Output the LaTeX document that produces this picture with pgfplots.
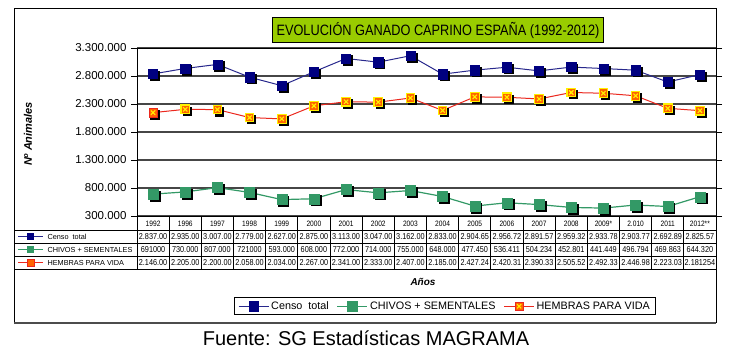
\documentclass[border=0pt]{standalone}
\usepackage{fontspec}
\setmainfont{Liberation Sans}
\newfontfamily\narrowfont[FakeStretch=0.85]{Liberation Sans}
\usepackage{pgfplots}
\usepackage{pgfplotstable}
\pgfplotsset{compat=1.18}
\definecolor{censo}{RGB}{0,0,128}
\definecolor{censoline}{RGB}{40,40,140}
\definecolor{chivos}{RGB}{51,153,102}
\definecolor{hembras}{RGB}{235,40,30}
\definecolor{hfill}{RGB}{255,100,0}
\definecolor{titlebg}{RGB}{153,204,0}
\definecolor{gridc}{RGB}{70,70,70}

\pgfdeclareplotmark{sqx}{%
  \pgfpathrectangle{\pgfqpoint{-\pgfplotmarksize}{-\pgfplotmarksize}}{\pgfqpoint{2\pgfplotmarksize}{2\pgfplotmarksize}}%
  \pgfusepathqfillstroke
  \pgfsetstrokecolor{yellow}\pgfsetlinewidth{1.1pt}%
  \pgfpathmoveto{\pgfqpoint{-0.5\pgfplotmarksize}{-0.5\pgfplotmarksize}}%
  \pgfpathlineto{\pgfqpoint{0.5\pgfplotmarksize}{0.5\pgfplotmarksize}}%
  \pgfpathmoveto{\pgfqpoint{-0.5\pgfplotmarksize}{0.5\pgfplotmarksize}}%
  \pgfpathlineto{\pgfqpoint{0.5\pgfplotmarksize}{-0.5\pgfplotmarksize}}%
  \pgfusepathqstroke}

\pgfplotstableread{
x censo chivos hembras
0  2837000 691000 2146000
1  2935000 730000 2205000
2  3007000 807000 2200000
3  2779000 721000 2058000
4  2627000 593000 2034000
5  2875000 608000 2267000
6  3113000 772000 2341000
7  3047000 714000 2333000
8  3162000 755000 2407000
9  2833000 648000 2185000
10 2904650 477450 2427240
11 2956720 536411 2420310
12 2891570 504234 2390330
13 2959320 452801 2505520
14 2933780 441449 2492330
15 2903770 496794 2446980
16 2692890 469863 2223030
17 2825570 644320 2181254
}\datatable

\begin{document}
\begin{tikzpicture}
\path (0pt,0pt) rectangle (750pt,-354pt);
\begin{axis}[
  at={(137pt,-216pt)}, anchor=south west,
  scale only axis, width=579pt, height=168pt,
  xmin=-0.5, xmax=17.5, ymin=300000, ymax=3300000,
  xtick=\empty,
  ytick={300000,800000,1300000,1800000,2300000,2800000,3300000},
  ymajorgrids, grid style={gridc, line width=1.1pt},
  axis line style={black, line width=0.9pt},
  tick align=outside, major tick length=6pt,
  ytick style={black, line width=0.8pt},
  /pgf/number format/assume math mode=true,
  yticklabel style={/pgf/number format/fixed, /pgf/number format/1000 sep={.}, font=\fontsize{11.5}{13}\selectfont, xshift=-1pt},
  scaled y ticks=false,
  clip=false,
  legend columns=3,
  legend style={at={(0.532,-0.537)}, anchor=center, draw=black, line width=0.8pt,
    font=\fontsize{10.8}{12}\selectfont, inner ysep=2pt, inner xsep=4pt,
    /tikz/every even column/.append style={column sep=6pt}},
  legend image code/.code={\draw[mark repeat=2,mark phase=2,#1] plot coordinates {(0pt,0pt)(15pt,0pt)(30pt,0pt)};},
]
% shadows
\addplot[forget plot, only marks, mark=square*, mark size=4.6pt, black, mark options={xshift=1.8pt,yshift=-1.8pt}] table[x=x,y=censo]{\datatable};
\addplot[forget plot, only marks, mark=square*, mark size=5pt, black, mark options={xshift=1.8pt,yshift=-1.8pt}] table[x=x,y=chivos]{\datatable};
\addplot[forget plot, only marks, mark=square*, mark size=4.3pt, black, mark options={xshift=1.8pt,yshift=-1.8pt}] table[x=x,y=hembras]{\datatable};
% series
\addplot[censoline, line width=1pt, mark=square*, mark size=4.6pt, mark options={fill=censo, draw=censo, line width=0.4pt}] table[x=x,y=censo]{\datatable};
\addlegendentry{Censo\ \ total}
\addplot[chivos, line width=1.2pt, mark=square*, mark size=5pt, mark options={fill=chivos, draw=chivos, line width=0.4pt}] table[x=x,y=chivos]{\datatable};
\addlegendentry{CHIVOS + SEMENTALES}
\addplot[hembras, line width=1pt, mark=sqx, mark size=4.3pt, mark options={fill=hfill, draw=hembras, line width=0.5pt}] table[x=x,y=hembras]{\datatable};
\addlegendentry{HEMBRAS PARA VIDA}
\end{axis}
\begin{scope}[x=1pt,y=-1pt]
% outer frame
\draw[line width=1pt] (14,8) rectangle (716,322);
% title
\node[draw=black, line width=0.8pt, fill=titlebg, inner xsep=4pt, minimum height=25pt, font=\narrowfont\fontsize{15}{17}\selectfont] at (438,30) {EVOLUCIÓN GANADO CAPRINO ESPAÑA (1992-2012)};
% y label
\node[rotate=90, font=\bfseries\itshape\fontsize{11}{13}\selectfont] at (28,134) {Nº Animales};
% table grid
\draw[line width=0.8pt] (137,216) -- (137,269);
\foreach \k in {1,...,18} {\draw[line width=0.8pt] ({137+32.167*\k},216) -- ({137+32.167*\k},269);}
\draw[line width=0.8pt] (14,230) -- (716,230);
\draw[line width=0.8pt] (14,243) -- (716,243);
\draw[line width=0.8pt] (14,256) -- (716,256);
\draw[line width=0.8pt] (14,269) -- (716,269);
% years
\foreach \v [count=\i from 0] in {1992,1996,1997,1998,1999,2000,2001,2002,2003,2004,2005,2006,2007,2008,2009*,2.010,2011,2012**}
  {\node[font=\narrowfont\fontsize{7.8}{8}\selectfont] at ({137+32.167*(\i+0.5)},223.5) {\v};}
\foreach \v [count=\i from 0] in {2.837.00,2.935.00,3.007.00,2.779.00,2.627.00,2.875.00,3.113.00,3.047.00,3.162.00,2.833.00,2.904.65,2.956.72,2.891.57,2.959.32,2.933.78,2.903.77,2.692.89,2.825.57}
  {\node[font=\narrowfont\fontsize{8.6}{9}\selectfont, inner sep=0pt] at ({137+32.167*(\i+0.5)},236.8) {\v};}
\foreach \v [count=\i from 0] in {691000,730.000,807.000,721000,593.000,608.000,772.000,714.000,755.000,648.000,477.450,536.411,504.234,452.801,441.449,496.794,469.863,644.320}
  {\node[font=\narrowfont\fontsize{8.6}{9}\selectfont, inner sep=0pt] at ({137+32.167*(\i+0.5)},249.8) {\v};}
\foreach \v [count=\i from 0] in {2.146.00,2.205.00,2.200.00,2.058.00,2.034.00,2.267.00,2.341.00,2.333.00,2.407.00,2.185.00,2.427.24,2.420.31,2.390.33,2.505.52,2.492.33,2.446.98,2.223.03,2.181254}
  {\node[font=\narrowfont\fontsize{8.6}{9}\selectfont, inner sep=0pt] at ({137+32.167*(\i+0.5)},262.8) {\v};}
% row labels with keys
\draw[censoline, line width=0.8pt] (18,236.5) -- (43,236.5);
\fill[censo] (27,233) rectangle (34,240);
\node[anchor=west, font=\fontsize{7.3}{8}\selectfont] at (44,236.8) {Censo\ \ total};
\draw[chivos, line width=0.8pt] (18,249.5) -- (43,249.5);
\fill[chivos] (27,246) rectangle (34,253);
\node[anchor=west, font=\fontsize{7.3}{8}\selectfont] at (44,249.8) {CHIVOS + SEMENTALES};
\draw[hembras, line width=0.8pt] (18,262.5) -- (43,262.5);
\filldraw[fill=hfill, draw=hembras] (27,259) rectangle (34,266);
\node[anchor=west, font=\fontsize{7.3}{8}\selectfont] at (44,262.8) {HEMBRAS PARA VIDA};
% axis title
\node[font=\bfseries\itshape\fontsize{10}{12}\selectfont] at (423,282) {Años};
% separator and source
\draw[line width=1.4pt, gray!60!black] (14,323) -- (716,323);
\node[font=\fontsize{20}{24}\selectfont] at (366,338) {Fuente: SG Estadísticas MAGRAMA};
\end{scope}
\end{tikzpicture}
\end{document}
